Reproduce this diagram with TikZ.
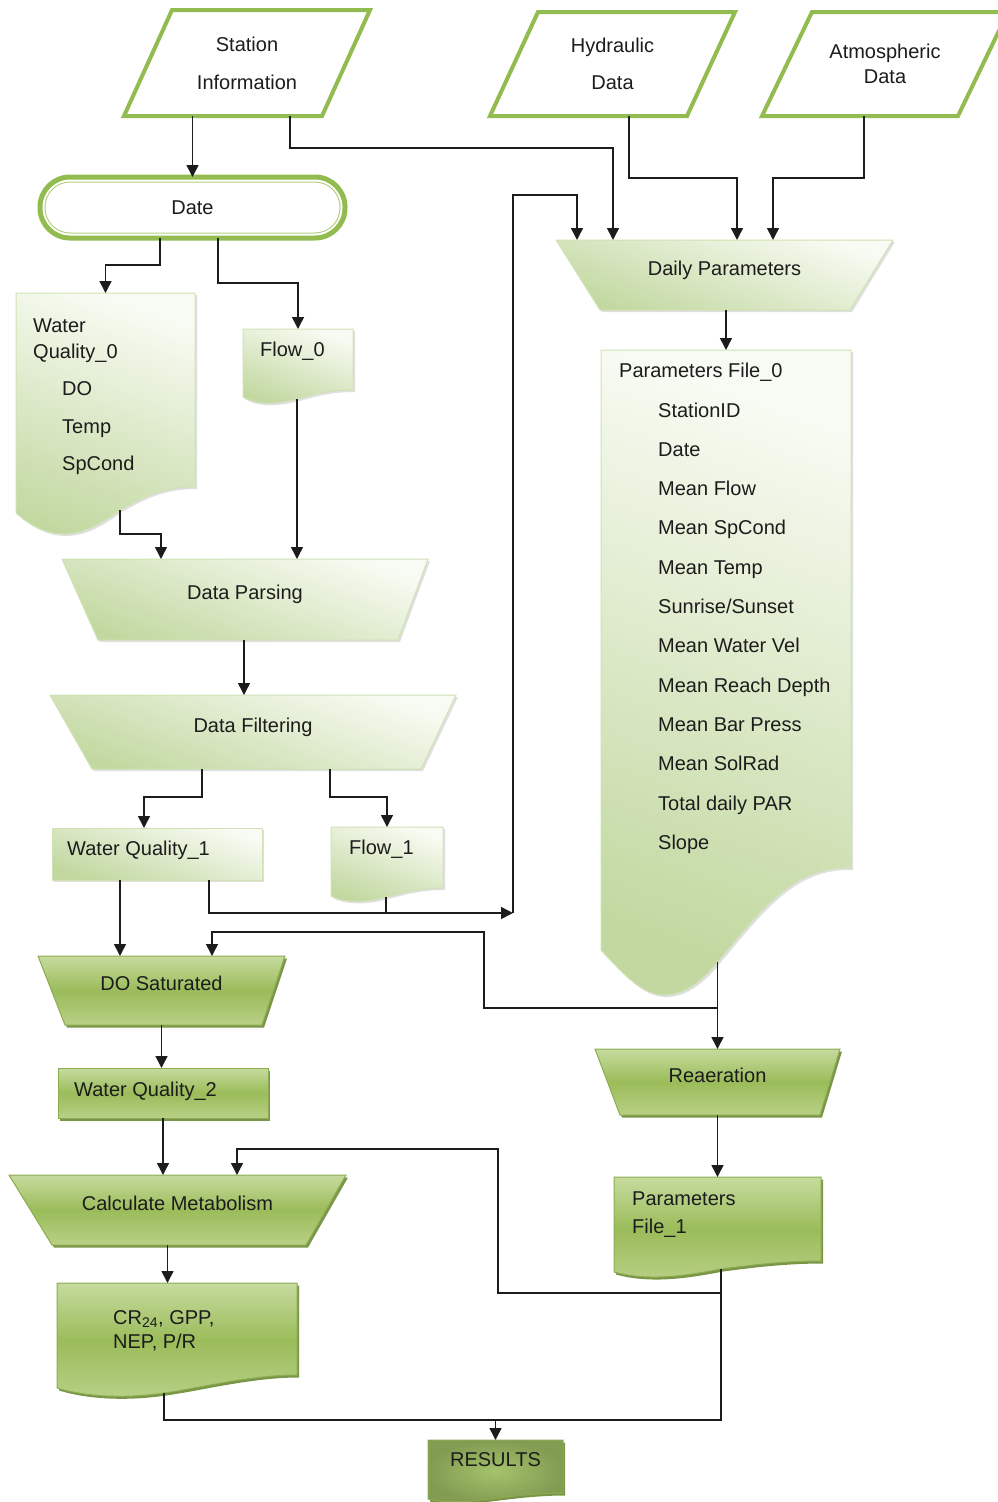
\documentclass[tikz,border=0pt]{standalone}
\usepackage{fontspec}
\setmainfont{Liberation Sans}
\usetikzlibrary{arrows.meta, backgrounds, shadows, calc}
\definecolor{Olive}{RGB}{146,187,80}
\definecolor{OliveLight}{RGB}{178,208,128}
\definecolor{PaleTop}{RGB}{248,251,243}
\definecolor{PaleBot}{RGB}{194,216,160}
\definecolor{PaleEdge}{RGB}{208,226,180}
\definecolor{LeafTop}{RGB}{198,219,158}
\definecolor{LeafMid}{RGB}{155,188,90}
\definecolor{LeafBot}{RGB}{184,208,134}
\definecolor{LeafEdge}{RGB}{140,172,80}
\definecolor{LeafDark}{RGB}{108,138,52}
\definecolor{Ink}{RGB}{28,28,28}
\newcommand{\setfs}[1]{\fontsize{20}{#1}\selectfont}

\begin{document}
\begin{tikzpicture}[x=1pt, y=-1pt, font=\setfs{24}, text=Ink,
    pbox/.style n args={2}{minimum width=#1, minimum height=#2, inner sep=0pt, outer sep=0pt},
    txt/.style={inner sep=0pt, align=left, anchor=north west},
    mid/.style={text height=15pt, text depth=15pt},
    iobox/.style={draw=Olive, line width=4pt, fill=white},
    pale/.style={top color=PaleTop, bottom color=PaleBot, shading angle=-20, draw=PaleEdge, line width=1pt,
        drop shadow={shadow xshift=2pt, shadow yshift=-2pt, opacity=0.25}},
    leaf/.style={top color=LeafTop, bottom color=LeafBot, middle color=LeafMid, draw=LeafEdge, line width=1pt,
        drop shadow={shadow xshift=2pt, shadow yshift=-2.5pt, fill=LeafDark, opacity=0.9}},
    leafglow/.style={inner color=LeafMid!90!white, outer color=LeafDark!85, draw=LeafEdge, line width=1pt,
        drop shadow={shadow xshift=2pt, shadow yshift=-2.5pt, fill=LeafDark, opacity=0.9}},
    arr/.style={draw=Ink, line width=1.5pt, -{Triangle[width=12pt, length=12pt]}},
    wire/.style={draw=Ink, line width=1.5pt}]

    \useasboundingbox (0,0) rectangle (998,1502);

    % input data
    \node[pbox={246pt}{106pt}, align=center, font=\setfs{38}] (stn) at (247,63) {Station\\Information};
    \node[pbox={245pt}{104pt}, align=center, font=\setfs{37}] (hyd) at (612.5,64) {Hydraulic\\Data};
    \node[pbox={246pt}{104pt}, align=center, font=\setfs{25}] (atm) at (885,64) {Atmospheric\\Data};
    \node[pbox={305pt}{61pt}] (date) at (192.5,207.5) {Date};

    % light boxes
    \node[pbox={337pt}{70pt}, mid] (dp) at (724.5,275) {Daily Parameters};
    \node[pbox={250pt}{518pt}] (pf0) at (726,609) {};
    \node[txt, font=\setfs{39.3}] (pf0t) at ([shift={(18,13)}]pf0.north west) {Parameters File\_0\\
        \hspace*{39pt}StationID\\
        \hspace*{39pt}Date\\
        \hspace*{39pt}Mean Flow\\
        \hspace*{39pt}Mean SpCond\\
        \hspace*{39pt}Mean Temp\\
        \hspace*{39pt}Sunrise/Sunset\\
        \hspace*{39pt}Mean Water Vel\\
        \hspace*{39pt}Mean Reach Depth\\
        \hspace*{39pt}Mean Bar Press\\
        \hspace*{39pt}Mean SolRad\\
        \hspace*{39pt}Total daily PAR\\
        \hspace*{39pt}Slope};
    \node[pbox={179pt}{194pt}] (wq0) at (105.5,390) {};
    \node[txt, font=\setfs{26}] (wq0t) at ([shift={(17,26)}]wq0.north west) {Water\\Quality\_0\\[11pt]
        \hspace*{29pt}DO\\[12pt]
        \hspace*{29pt}Temp\\[11pt]
        \hspace*{29pt}SpCond};
    \node[pbox={110pt}{61pt}] (fl0) at (298,359.5) {};
    \node[txt] (fl0t) at ([shift={(17,13)}]fl0.north west) {Flow\_0};
    \node[pbox={366pt}{81pt}, mid] (dpa) at (245,599.5) {Data Parsing};
    \node[pbox={406pt}{74pt}, mid] (dfi) at (253,732) {Data Filtering};
    \node[pbox={210pt}{52pt}] (wq1) at (157,854) {};
    \node[txt] (wq1t) at ([shift={(15,13)}]wq1.north west) {Water Quality\_1};
    \node[pbox={112pt}{61pt}] (fl1) at (387,857.5) {};
    \node[txt] (fl1t) at ([shift={(18,13)}]fl1.north west) {Flow\_1};

    % dark boxes
    \node[pbox={247pt}{69pt}, mid] (dos) at (161.5,990.5) {DO Saturated};
    \node[pbox={210pt}{50pt}] (wq2) at (163,1093) {};
    \node[txt] (wq2t) at ([shift={(16,14)}]wq2.north west) {Water Quality\_2};
    \node[pbox={337pt}{70pt}, mid] (cme) at (177.5,1210) {Calculate Metabolism};
    \node[pbox={240pt}{92pt}] (cr) at (177,1329) {};
    \node[txt] (crt) at ([shift={(56,27)}]cr.north west) {CR\textsubscript{24}, GPP,\\NEP, P/R};
    \node[pbox={245pt}{66pt}, mid] (rea) at (717.5,1082) {Reaeration};
    \node[pbox={207pt}{84pt}] (pf1) at (717.5,1219) {};
    \node[txt, font=\setfs{28}] (pf1t) at ([shift={(18,15)}]pf1.north west) {Parameters\\File\_1};
    \node[pbox={135pt}{53pt}, mid] (res) at (495.5,1466.5) {RESULTS};

    \begin{scope}[on background layer]
        % parallelograms
        \path[iobox] ([xshift=48pt]stn.north west) -- (stn.north east)
            -- ([xshift=-48pt]stn.south east) -- (stn.south west) -- cycle;
        \path[iobox] ([xshift=48pt]hyd.north west) -- (hyd.north east)
            -- ([xshift=-48pt]hyd.south east) -- (hyd.south west) -- cycle;
        \path[iobox] ([xshift=50pt]atm.north west) -- (atm.north east)
            -- ([xshift=-50pt]atm.south east) -- (atm.south west) -- cycle;

        % terminal
        \path[draw=Olive, line width=5pt, fill=white, rounded corners=30pt]
            (date.north west) rectangle (date.south east);
        \path[draw=OliveLight, line width=1pt, rounded corners=25pt]
            ([shift={(5,5)}]date.north west) rectangle ([shift={(-5,-5)}]date.south east);

        % light shapes
        \path[pale] (dp.north west) -- (dp.north east)
            -- ([xshift=-43pt]dp.south east) -- ([xshift=44pt]dp.south west) -- cycle;
        \path[pale] (pf0.north west) -- (pf0.north east) -- (pf0.south east)
            .. controls (795,866) and (765,905) .. (717.5,962) coordinate (pf0out)
            .. controls (695,990) and (670,1003) .. (645,990)
            .. controls (630,982) and (612,962) .. (601,950) -- cycle;
        \path[pale] (wq0.north west) -- (wq0.north east) -- (wq0.south east)
            .. controls (160,487) and (140,499) .. (120,510) coordinate (wq0out)
            .. controls (95,528) and (60,552) .. (16,513) -- cycle;
        \path[pale] (fl0.north west) -- (fl0.north east) -- (fl0.south east)
            .. controls (325,390) and (310,396) .. (297,399) coordinate (fl0out)
            .. controls (278,404) and (258,406) .. (243,397) -- cycle;
        \path[pale] (dpa.north west) -- (dpa.north east)
            -- ([xshift=-30pt]dpa.south east) -- ([xshift=36pt]dpa.south west) -- cycle;
        \path[pale] (dfi.north west) -- (dfi.north east)
            -- ([xshift=-35pt]dfi.south east) -- ([xshift=42pt]dfi.south west) -- cycle;
        \path[pale] (wq1.north west) rectangle (wq1.south east);
        \path[pale] (fl1.north west) -- (fl1.north east) -- (fl1.south east)
            .. controls (415,888) and (400,894) .. (386,897) coordinate (fl1out)
            .. controls (368,902) and (346,904) .. (331,896) -- cycle;

        % dark shapes
        \path[leaf] (dos.north west) -- (dos.north east)
            -- ([xshift=-23pt]dos.south east) -- ([xshift=27pt]dos.south west) -- cycle;
        \path[leaf] (wq2.north west) rectangle (wq2.south east);
        \path[leaf] (cme.north west) -- (cme.north east)
            -- ([xshift=-40pt]cme.south east) -- ([xshift=43pt]cme.south west) -- cycle;
        \path[leaf] (cr.north west) -- (cr.north east) -- (cr.south east)
            .. controls (250,1375) and (200,1388) .. (164,1393) coordinate (crout)
            .. controls (130,1398) and (90,1398) .. (57,1388) -- cycle;
        \path[leaf] (rea.north west) -- (rea.north east)
            -- ([xshift=-20pt]rea.south east) -- ([xshift=25pt]rea.south west) -- cycle;
        \path[leaf] (pf1.north west) -- (pf1.north east) -- (pf1.south east)
            .. controls (780,1261) and (745,1266) .. (721,1269) coordinate (pf1out)
            .. controls (690,1275) and (650,1282) .. (614,1272) -- cycle;
        \path[leafglow] (res.north west) -- (res.north east) -- (res.south east)
            .. controls (530,1493) and (500,1498) .. (480,1500)
            .. controls (460,1503) and (440,1502) .. (428,1499) -- cycle;
    \end{scope}

    % inputs
    \draw[arr] (stn.south -| date.north) -- (date.north);
    \draw[arr] ([xshift=43pt]stn.south) -- ++(0,32) -| ([xshift=-111.5pt]dp.north);
    \draw[arr] ([xshift=16.5pt]hyd.south) -- ++(0,62) -| ([xshift=12.5pt]dp.north);
    \draw[arr] ([xshift=-21pt]atm.south) -- ++(0,62) -| ([xshift=48.5pt]dp.north);
    \draw[arr] (dp.south -| pf0.north) -- (pf0.north);

    % date split
    \draw[arr] ([xshift=-32.5pt]date.south) -- ++(0,27) -| (wq0.north);
    \draw[arr] ([xshift=25.5pt]date.south) -- ++(0,45) -| (fl0.north);

    % parsing and filtering
    \draw[arr] (wq0out) -- ++(0,24) -| ([xshift=-84pt]dpa.north);
    \draw[arr] (fl0out) -- (fl0out |- dpa.north);
    \draw[arr] ([xshift=-1pt]dpa.south) -- ([xshift=-1pt]dpa.south |- dfi.north);
    \draw[arr] ([xshift=-51pt]dfi.south) -- ++(0,28) -| ([xshift=-13pt]wq1.north);
    \draw[arr] ([xshift=77pt]dfi.south) -- ++(0,28) -| (fl1.north);

    % loop back to daily parameters
    \coordinate (jn) at (513,913);
    \draw[arr] ([xshift=52pt]wq1.south) |- (jn);
    \draw[wire] (fl1out) -- (fl1out |- jn);
    \draw[arr] (jn) -- ++(0,-718) -| ([xshift=-147.5pt]dp.north);

    % saturation and reaeration
    \draw[arr] ([xshift=-37pt]wq1.south) -- ([xshift=-37pt]wq1.south |- dos.north);
    \draw[arr] (pf0out) -- (pf0out |- rea.north);
    \draw[arr] ([yshift=41pt]rea.north) -- ++(-233.5,0) -- ++(0,-76) -| ([xshift=50.5pt]dos.north);
    \draw[arr] (dos.south) -- (dos.south |- wq2.north);
    \draw[arr] (wq2.south) -- (wq2.south |- cme.north);
    \draw[arr] (rea.south) -- (rea.south |- pf1.north);

    % metabolism
    \draw[arr] (pf1out) -- ++(0,24) -- ++(-223,0) -- ++(0,-144) -| ([xshift=59.5pt]cme.north);
    \draw[arr] ([xshift=-10pt]cme.south) -- ([xshift=-10pt]cme.south |- cr.north);

    % results
    \draw[wire] (pf1out) -- ++(0,151) coordinate (bj) -- (crout |- bj) -- (crout);
    \draw[arr] (res.north |- bj) -- (res.north);

\end{tikzpicture}
\end{document}
